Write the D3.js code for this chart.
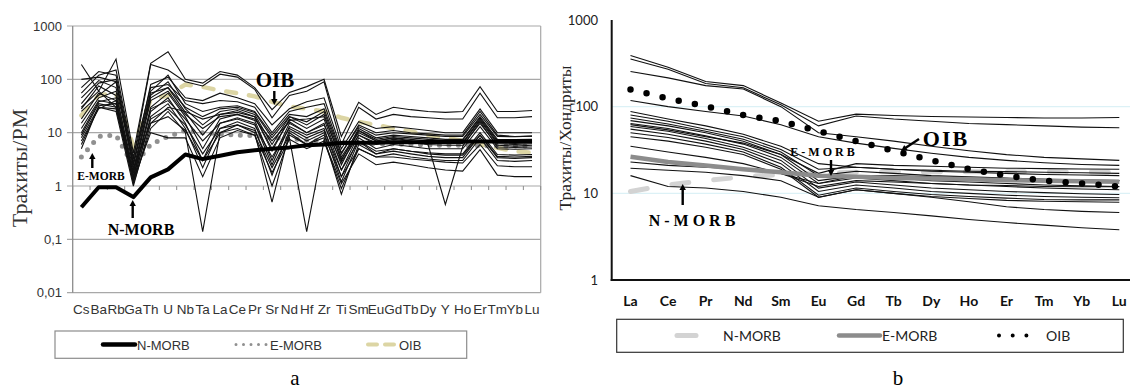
<!DOCTYPE html>
<html>
<head>
<meta charset="utf-8">
<script src="https://cdn.jsdelivr.net/npm/d3@7"></script>
<style>
  body { margin: 0; background: #fff; }
</style>
</head>
<body>
<svg id="chart" width="1130" height="389"></svg>
<script>
// ---- panel a : trachytes / primitive mantle
const catsA = ['Cs','Ba','Rb','Ga','Th','U','Nb','Ta','La','Ce','Pr','Sr','Nd','Hf','Zr','Ti','Sm','Eu','Gd','Tb','Dy','Y','Ho','Er','Tm','Yb','Lu'];
const ticksA = [1000, 100, 10, 1, 0.1, 0.01];
const tickLabelsA = ['1000', '100', '10', '1', '0,1', '0,01'];

const nmorbA = [0.4, 0.95, 0.95, 0.62, 1.45, 2.05, 3.9, 3.2, 3.7, 4.3, 4.7, 5.0, 5.3, 5.8, 6.0, 6.4, 6.5, 6.5, 6.6, 6.6, 6.7, 6.7, 6.8, 6.8, 6.8, 6.9, 6.9];
const emorbA = [3.5, 8.5, 9, 2.4, 6, 8.5, 11, 10, 9.5, 9, 8.8, 8, 7.8, 7.2, 7, 6.6, 6.4, 6.2, 6.1, 6, 5.9, 5.8, 5.8, 5.7, 5.7, 5.6, 5.6];
const oibA = [21, 50, 55, 5.5, 42, 50, 80, 72, 62, 55, 48, 38, 31, 28, 25, 19, 16, 14, 12, 10.5, 9, 8, 7, 6, 5.2, 4.5, 4.2];

const samplesA = [
  [190, 60, 240, 4.2, 200, 330, 100, 85, 140, 120, 70, 27, 57, 73, 100, 8.5, 37, 22, 30, 27, 25, 24, 25, 73, 25, 25, 26],
  [70, 140, 120, 3.2, 190, 150, 90, 75, 125, 110, 65, 19, 50, 60, 90, 6, 30, 18, 22, 20, 19, 18, 18, 55, 19, 19, 20],
  [100, 110, 90, 2.6, 80, 110, 45, 40, 55, 45, 35, 14, 28, 38, 45, 5, 16, 12, 13, 12, 11, 10, 10, 28, 10, 10, 10],
  [55, 120, 150, 3.5, 70, 80, 40, 35, 40, 38, 30, 10, 25, 30, 35, 4.2, 13, 9, 10, 9.5, 9, 8.5, 8.5, 22, 8.5, 8.4, 8.6],
  [45, 95, 70, 2.4, 60, 120, 35, 25, 30, 32, 25, 9, 22, 20, 28, 4, 14, 10, 11, 10, 9.5, 9, 9, 25, 9, 8.5, 8.6],
  [35, 85, 100, 2.8, 55, 70, 30, 20, 28, 30, 24, 8, 20, 16, 25, 3.5, 11, 7.5, 8.5, 8, 7.5, 7.2, 7.2, 19, 7, 6.9, 7],
  [28, 75, 50, 2.0, 50, 90, 28, 14, 25, 28, 22, 6, 20, 14, 22, 3, 12, 8, 9, 8.5, 8, 7.5, 7.5, 20, 7.5, 7.4, 7.5],
  [30, 60, 30, 1.7, 40, 60, 22, 12, 20, 22, 18, 7, 16, 10, 14, 2.8, 9, 6.5, 7.5, 7, 6.5, 6.2, 6.3, 17, 6.2, 6, 6.2],
  [18, 55, 40, 1.8, 45, 70, 24, 9, 22, 26, 20, 4.5, 18, 12, 18, 2.5, 11, 7, 8, 7.5, 7, 6.8, 6.5, 18, 6.5, 6.3, 6.5],
  [25, 50, 90, 2.2, 15, 30, 25, 18, 22, 24, 20, 5, 17, 18, 20, 3.2, 10, 7, 8, 7, 6, 0.45, 5.5, 16, 5.4, 5.3, 5.4],
  [12, 40, 35, 1.5, 30, 55, 20, 5, 18, 22, 17, 3, 15, 10, 15, 2, 9, 6, 7, 6.5, 6, 5.8, 5.8, 15, 5.8, 5.6, 5.8],
  [9, 35, 30, 1.4, 25, 45, 15, 3, 15, 19, 15, 2.5, 13, 9, 12, 1.5, 8, 5, 6, 5.5, 5, 5, 5, 13, 5, 4.9, 5],
  [15, 45, 60, 1.5, 28, 40, 18, 7, 15, 18, 14, 3.5, 12, 8, 11, 2, 7, 4, 5, 4.5, 4, 3.8, 3.8, 9, 3.6, 3.5, 3.6],
  [6, 30, 28, 1.2, 20, 35, 12, 2.2, 12, 16, 12, 1.6, 11, 7, 10, 1.2, 7, 4.5, 5, 4.5, 4.2, 4, 4, 10, 3.9, 3.8, 3.9],
  [5, 32, 35, 1.1, 12, 25, 10, 0.14, 10, 14, 10, 0.5, 10, 6, 8, 0.7, 6, 4, 4.5, 4, 3.6, 3.4, 3.4, 9, 3.4, 3.3, 3.4],
  [7, 28, 40, 1.3, 10, 8, 8, 1.5, 8, 11, 9, 1, 8, 0.14, 7, 0.9, 5, 3.5, 4, 3.5, 3.2, 3, 3, 8, 3, 2.9, 3],
  [10, 38, 45, 1.3, 18, 28, 14, 4, 12, 14, 11, 2.2, 9, 6, 9, 1.5, 5, 3.5, 3.5, 3.2, 3, 2.8, 2.7, 6, 2.4, 2.3, 2.3],
  [8, 30, 25, 1.0, 15, 20, 11, 3, 10, 12, 9, 1.8, 7.5, 5, 7, 1.1, 4, 2.5, 2.8, 2.5, 2.2, 2, 1.9, 4.8, 1.6, 1.5, 1.5]
];

// ---- panel b : trachytes / chondrite
const catsB = ['La','Ce','Pr','Nd','Sm','Eu','Gd','Tb','Dy','Ho','Er','Tm','Yb','Lu'];
const ticksB = [1000, 100, 10, 1];
const tickLabelsB = ['1000', '100', '10', '1'];

const nmorbB = [10.5, 12.5, 14, 15.5, 16.5, 17, 17.5, 17.8, 17.8, 17.8, 17.7, 17.7, 17.6, 17.5];
const emorbB = [26.5, 23, 21, 19, 17.5, 16, 15.5, 15, 14.8, 14.5, 14.2, 14, 13.8, 13.6];
const oibB = [158, 124, 101, 80, 68, 52, 40, 31, 24, 19, 16, 14, 13, 12];

const samplesB = [
  [390, 285, 195, 175, 110, 68, 82, 79, 77, 76, 75, 74, 74, 75],
  [355, 270, 185, 165, 105, 60, 78, 72, 68, 64, 62, 60, 58, 57],
  [255, 215, 175, 160, 100, 50, 45, 40, 35, 31, 28, 26, 25, 24],
  [118, 100, 88, 78, 62, 45, 38, 33, 29, 26, 24, 22.5, 21.5, 21],
  [88, 72, 60, 48, 35, 22, 20, 19, 18.5, 18, 17.8, 17.5, 17.3, 17],
  [80, 68, 55, 45, 32, 19, 20, 19, 18, 17.5, 17, 16.5, 16.3, 16],
  [74, 63, 52, 42, 30, 16, 18, 17, 16, 15.5, 15, 14.5, 14, 14],
  [69, 60, 50, 40, 28, 14, 16, 15, 14, 13.5, 13, 12.5, 12.2, 12],
  [64, 56, 46, 37, 26, 13, 15, 14, 13, 12.5, 12, 11.5, 11.2, 11],
  [62, 54, 45, 38, 28, 17, 22, 21, 20.5, 20, 19.5, 19.3, 19.1, 19],
  [59, 52, 43, 34, 24, 11.5, 13.5, 12.5, 11.5, 11, 10.5, 10.2, 9.9, 9.7],
  [55, 48, 40, 32, 22, 10.5, 12.5, 11.5, 10.5, 10, 9.5, 9.2, 9, 8.9],
  [50, 44, 37, 30, 20, 9.5, 11.5, 10.5, 9.7, 9.2, 8.8, 8.5, 8.4, 8.4],
  [45, 40, 34, 28, 19, 9, 11, 10, 9.2, 8.7, 8.3, 8.1, 8, 7.9],
  [35, 30, 26, 22, 17, 12, 14, 13.5, 13, 12.5, 12.3, 12, 11.9, 11.9],
  [23, 21, 20, 19, 17, 13, 16, 16, 15.5, 15, 14.8, 14.5, 14.3, 14],
  [19.5, 18.5, 17.5, 16, 14, 9, 11, 10, 9, 8, 7, 6.5, 6.2, 6],
  [16, 12, 11.5, 10.5, 9, 7.2, 6.5, 6, 5.5, 5, 4.6, 4.3, 4, 3.8]
];

const svg = d3.select('#chart');
const SANS = '"Liberation Sans", Arial, sans-serif';
const SERIF = '"Liberation Serif", "Times New Roman", serif';
const LATO = 'Lato, "Open Sans", sans-serif';

function arrow(g, x1, y1, x2, y2) {
  const a = Math.atan2(y2 - y1, x2 - x1);
  const h = 6, w = 3.2;
  g.append('line').attr('x1', x1).attr('y1', y1)
    .attr('x2', x2 - Math.cos(a) * h * 0.8).attr('y2', y2 - Math.sin(a) * h * 0.8)
    .attr('stroke', '#000').attr('stroke-width', 2.4);
  const bx = x2 - Math.cos(a) * h, by = y2 - Math.sin(a) * h;
  g.append('path')
    .attr('d', `M${x2},${y2}L${bx - Math.sin(a) * w},${by + Math.cos(a) * w}L${bx + Math.sin(a) * w},${by - Math.cos(a) * w}Z`)
    .attr('fill', '#000');
}

// ================= panel a
const gA = svg.append('g');
const xA = d3.scaleBand().domain(catsA).range([72.7, 540.7]);
const yA = d3.scaleLog().domain([0.01, 1000]).range([292.7, 26]);
const cxA = c => xA(c) + xA.bandwidth() / 2;

gA.selectAll('.gridA').data(ticksA).enter().append('line')
  .attr('x1', 67).attr('x2', 540.7)
  .attr('y1', d => yA(d)).attr('y2', d => yA(d))
  .attr('stroke', '#a8a8a8').attr('stroke-width', 1.2);
gA.append('line').attr('x1', 72.7).attr('x2', 72.7).attr('y1', yA(1000)).attr('y2', yA(0.01))
  .attr('stroke', '#8c8c8c').attr('stroke-width', 1.3);
gA.append('line').attr('x1', 540.7).attr('x2', 540.7).attr('y1', yA(1000)).attr('y2', yA(0.01))
  .attr('stroke', '#a8a8a8').attr('stroke-width', 1.2);
gA.selectAll('.tickX').data(d3.range(catsA.length + 1)).enter().append('line')
  .attr('x1', i => 72.7 + i * xA.bandwidth()).attr('x2', i => 72.7 + i * xA.bandwidth())
  .attr('y1', yA(1)).attr('y2', yA(1) + 4)
  .attr('stroke', '#8c8c8c').attr('stroke-width', 1);

gA.selectAll('.ylabA').data(ticksA).enter().append('text')
  .attr('x', 62).attr('y', d => yA(d) + 4.5)
  .attr('text-anchor', 'end').attr('font-family', SANS).attr('font-size', 13).attr('fill', '#333')
  .text((d, i) => tickLabelsA[i]);
gA.selectAll('.xlabA').data(catsA).enter().append('text')
  .attr('x', d => cxA(d)).attr('y', 313.5)
  .attr('text-anchor', 'middle').attr('font-family', SANS).attr('font-size', 13.5).attr('fill', '#333')
  .text(d => d);
gA.append('text')
  .attr('transform', 'translate(27,168) rotate(-90)')
  .attr('text-anchor', 'middle').attr('font-family', SERIF).attr('font-size', 22).attr('fill', '#333')
  .text('Трахиты/PM');

const lineA = d3.line().x((d, i) => cxA(catsA[i])).y(d => yA(d));

gA.append('path').datum(oibA).attr('d', lineA).attr('fill', 'none')
  .attr('stroke', '#dcd5a4').attr('stroke-width', 4.5).attr('stroke-dasharray', '10 13').attr('stroke-linecap', 'round');
gA.append('path').datum(emorbA).attr('d', lineA).attr('fill', 'none')
  .attr('stroke', '#909090').attr('stroke-width', 5).attr('stroke-dasharray', '0 9.5').attr('stroke-linecap', 'round');
gA.selectAll('.sampleA').data(samplesA).enter().append('path')
  .attr('d', lineA).attr('fill', 'none').attr('stroke', '#111').attr('stroke-width', 1.1);
gA.append('path').datum(nmorbA).attr('d', lineA).attr('fill', 'none')
  .attr('stroke', '#000').attr('stroke-width', 4).attr('stroke-linejoin', 'round');

// annotations a
gA.append('text').attr('x', 275).attr('y', 87).attr('text-anchor', 'middle')
  .attr('font-family', SERIF).attr('font-weight', 'bold').attr('font-size', 21).text('OIB');
arrow(gA, 274.3, 91, 274.3, 105);
gA.append('text').attr('x', 101).attr('y', 180).attr('text-anchor', 'middle')
  .attr('font-family', SERIF).attr('font-weight', 'bold').attr('font-size', 11.5).text('E-MORB');
arrow(gA, 92.3, 168, 92.3, 153);
gA.append('text').attr('x', 141).attr('y', 235).attr('text-anchor', 'middle')
  .attr('font-family', SERIF).attr('font-weight', 'bold').attr('font-size', 16).text('N-MORB');
arrow(gA, 132.7, 218, 132.7, 200);

// legend a
const lgA = gA.append('g');
lgA.append('rect').attr('x', 55).attr('y', 331).attr('width', 411.7).attr('height', 27.3)
  .attr('fill', 'none').attr('stroke', '#8c8c8c').attr('stroke-width', 1.2);
lgA.append('line').attr('x1', 103).attr('x2', 135).attr('y1', 344.5).attr('y2', 344.5)
  .attr('stroke', '#000').attr('stroke-width', 4.5).attr('stroke-linecap', 'round');
lgA.append('line').attr('x1', 236).attr('x2', 267).attr('y1', 344.5).attr('y2', 344.5)
  .attr('stroke', '#909090').attr('stroke-width', 3).attr('stroke-dasharray', '0 7.5').attr('stroke-linecap', 'round');
lgA.append('line').attr('x1', 368).attr('x2', 396).attr('y1', 344.5).attr('y2', 344.5)
  .attr('stroke', '#dcd5a4').attr('stroke-width', 4).attr('stroke-dasharray', '9 8').attr('stroke-linecap', 'round');
lgA.selectAll('.lgtA').data([[137, 'N-MORB'], [270, 'E-MORB'], [399, 'OIB']]).enter().append('text')
  .attr('x', d => d[0]).attr('y', 349.5).attr('font-family', SANS).attr('font-size', 13).attr('fill', '#333')
  .text(d => d[1]);
gA.append('text').attr('x', 295).attr('y', 385).attr('text-anchor', 'middle')
  .attr('font-family', SERIF).attr('font-size', 21).text('a');

// ================= panel b
const gB = svg.append('g');
const xB = d3.scaleBand().domain(catsB).range([611.7, 611.7 + 14 * 37.6]);
const yB = d3.scaleLog().domain([1, 1000]).range([280, 20]);
const cxB = c => xB(c) + xB.bandwidth() / 2;

gB.selectAll('.gridB').data([100, 10]).enter().append('line')
  .attr('x1', 611.7).attr('x2', 1130)
  .attr('y1', d => yB(d)).attr('y2', d => yB(d))
  .attr('stroke', '#dcf1f6').attr('stroke-width', 1.2);

const lineB = d3.line().x((d, i) => cxB(catsB[i])).y(d => yB(d));
gB.append('path').datum(nmorbB).attr('d', lineB).attr('fill', 'none')
  .attr('stroke', '#d3d3d3').attr('stroke-width', 5).attr('stroke-dasharray', '17 25').attr('stroke-linecap', 'round');
gB.selectAll('.sampleB').data(samplesB).enter().append('path')
  .attr('d', lineB).attr('fill', 'none').attr('stroke', '#111').attr('stroke-width', 1.1);
gB.append('path').datum(emorbB).attr('d', lineB).attr('fill', 'none')
  .attr('stroke', '#8c8c8c').attr('stroke-width', 4.5);
gB.append('path').datum(oibB).attr('d', lineB).attr('fill', 'none')
  .attr('stroke', '#000').attr('stroke-width', 6.5).attr('stroke-dasharray', '0 16.5').attr('stroke-linecap', 'round');

gB.append('line').attr('x1', 611.7).attr('x2', 611.7).attr('y1', 20).attr('y2', 281)
  .attr('stroke', '#111').attr('stroke-width', 2);
gB.append('line').attr('x1', 610.7).attr('x2', 1130).attr('y1', 280).attr('y2', 280)
  .attr('stroke', '#111').attr('stroke-width', 2);

gB.selectAll('.ylabB').data(ticksB).enter().append('text')
  .attr('x', 598).attr('y', d => yB(d) + 4.5)
  .attr('text-anchor', 'end').attr('font-family', LATO).attr('font-size', 13).attr('fill', '#222')
  .text((d, i) => tickLabelsB[i]);
gB.selectAll('.xlabB').data(catsB).enter().append('text')
  .attr('x', d => cxB(d)).attr('y', 305.5)
  .attr('text-anchor', 'middle').attr('font-family', LATO).attr('font-weight', 'bold').attr('font-size', 14).attr('fill', '#111')
  .text(d => d);
gB.append('text')
  .attr('transform', 'translate(571,138) rotate(-90)')
  .attr('text-anchor', 'middle').attr('font-family', SERIF).attr('font-size', 17.5).attr('fill', '#222')
  .text('Трахиты/Хондриты');

// annotations b
gB.append('text').attr('x', 824).attr('y', 156).attr('text-anchor', 'middle')
  .attr('font-family', SERIF).attr('font-weight', 'bold').attr('font-size', 12).attr('letter-spacing', 3).text('E-MORB');
arrow(gB, 831, 160, 831, 176);
gB.append('text').attr('x', 946).attr('y', 146).attr('text-anchor', 'middle')
  .attr('font-family', SERIF).attr('font-weight', 'bold').attr('font-size', 22).attr('letter-spacing', 2).text('OIB');
arrow(gB, 919, 139, 901, 151);
gB.append('text').attr('x', 694).attr('y', 226).attr('text-anchor', 'middle')
  .attr('font-family', SERIF).attr('font-weight', 'bold').attr('font-size', 16).attr('letter-spacing', 4).text('N-MORB');
arrow(gB, 682.7, 205, 682.7, 184);

// legend b
const lgB = gB.append('g');
lgB.append('rect').attr('x', 616.7).attr('y', 319.3).attr('width', 506.6).attr('height', 33)
  .attr('fill', 'none').attr('stroke', '#333').attr('stroke-width', 1.2);
lgB.append('line').attr('x1', 677).attr('x2', 696).attr('y1', 335.5).attr('y2', 335.5)
  .attr('stroke', '#d3d3d3').attr('stroke-width', 5).attr('stroke-linecap', 'round');
lgB.append('line').attr('x1', 839).attr('x2', 880).attr('y1', 335.5).attr('y2', 335.5)
  .attr('stroke', '#8c8c8c').attr('stroke-width', 4.5).attr('stroke-linecap', 'round');
lgB.append('line').attr('x1', 999).attr('x2', 1040).attr('y1', 335.5).attr('y2', 335.5)
  .attr('stroke', '#000').attr('stroke-width', 4).attr('stroke-dasharray', '0 13.7').attr('stroke-linecap', 'round');
lgB.selectAll('.lgtB').data([[723, 'N-MORB'], [882, 'E-MORB'], [1046, 'OIB']]).enter().append('text')
  .attr('x', d => d[0]).attr('y', 340.5).attr('font-family', LATO).attr('font-size', 14).attr('fill', '#222')
  .text(d => d[1]);
gB.append('text').attr('x', 898).attr('y', 385).attr('text-anchor', 'middle')
  .attr('font-family', SERIF).attr('font-size', 21).text('b');
</script>
</body>
</html>
